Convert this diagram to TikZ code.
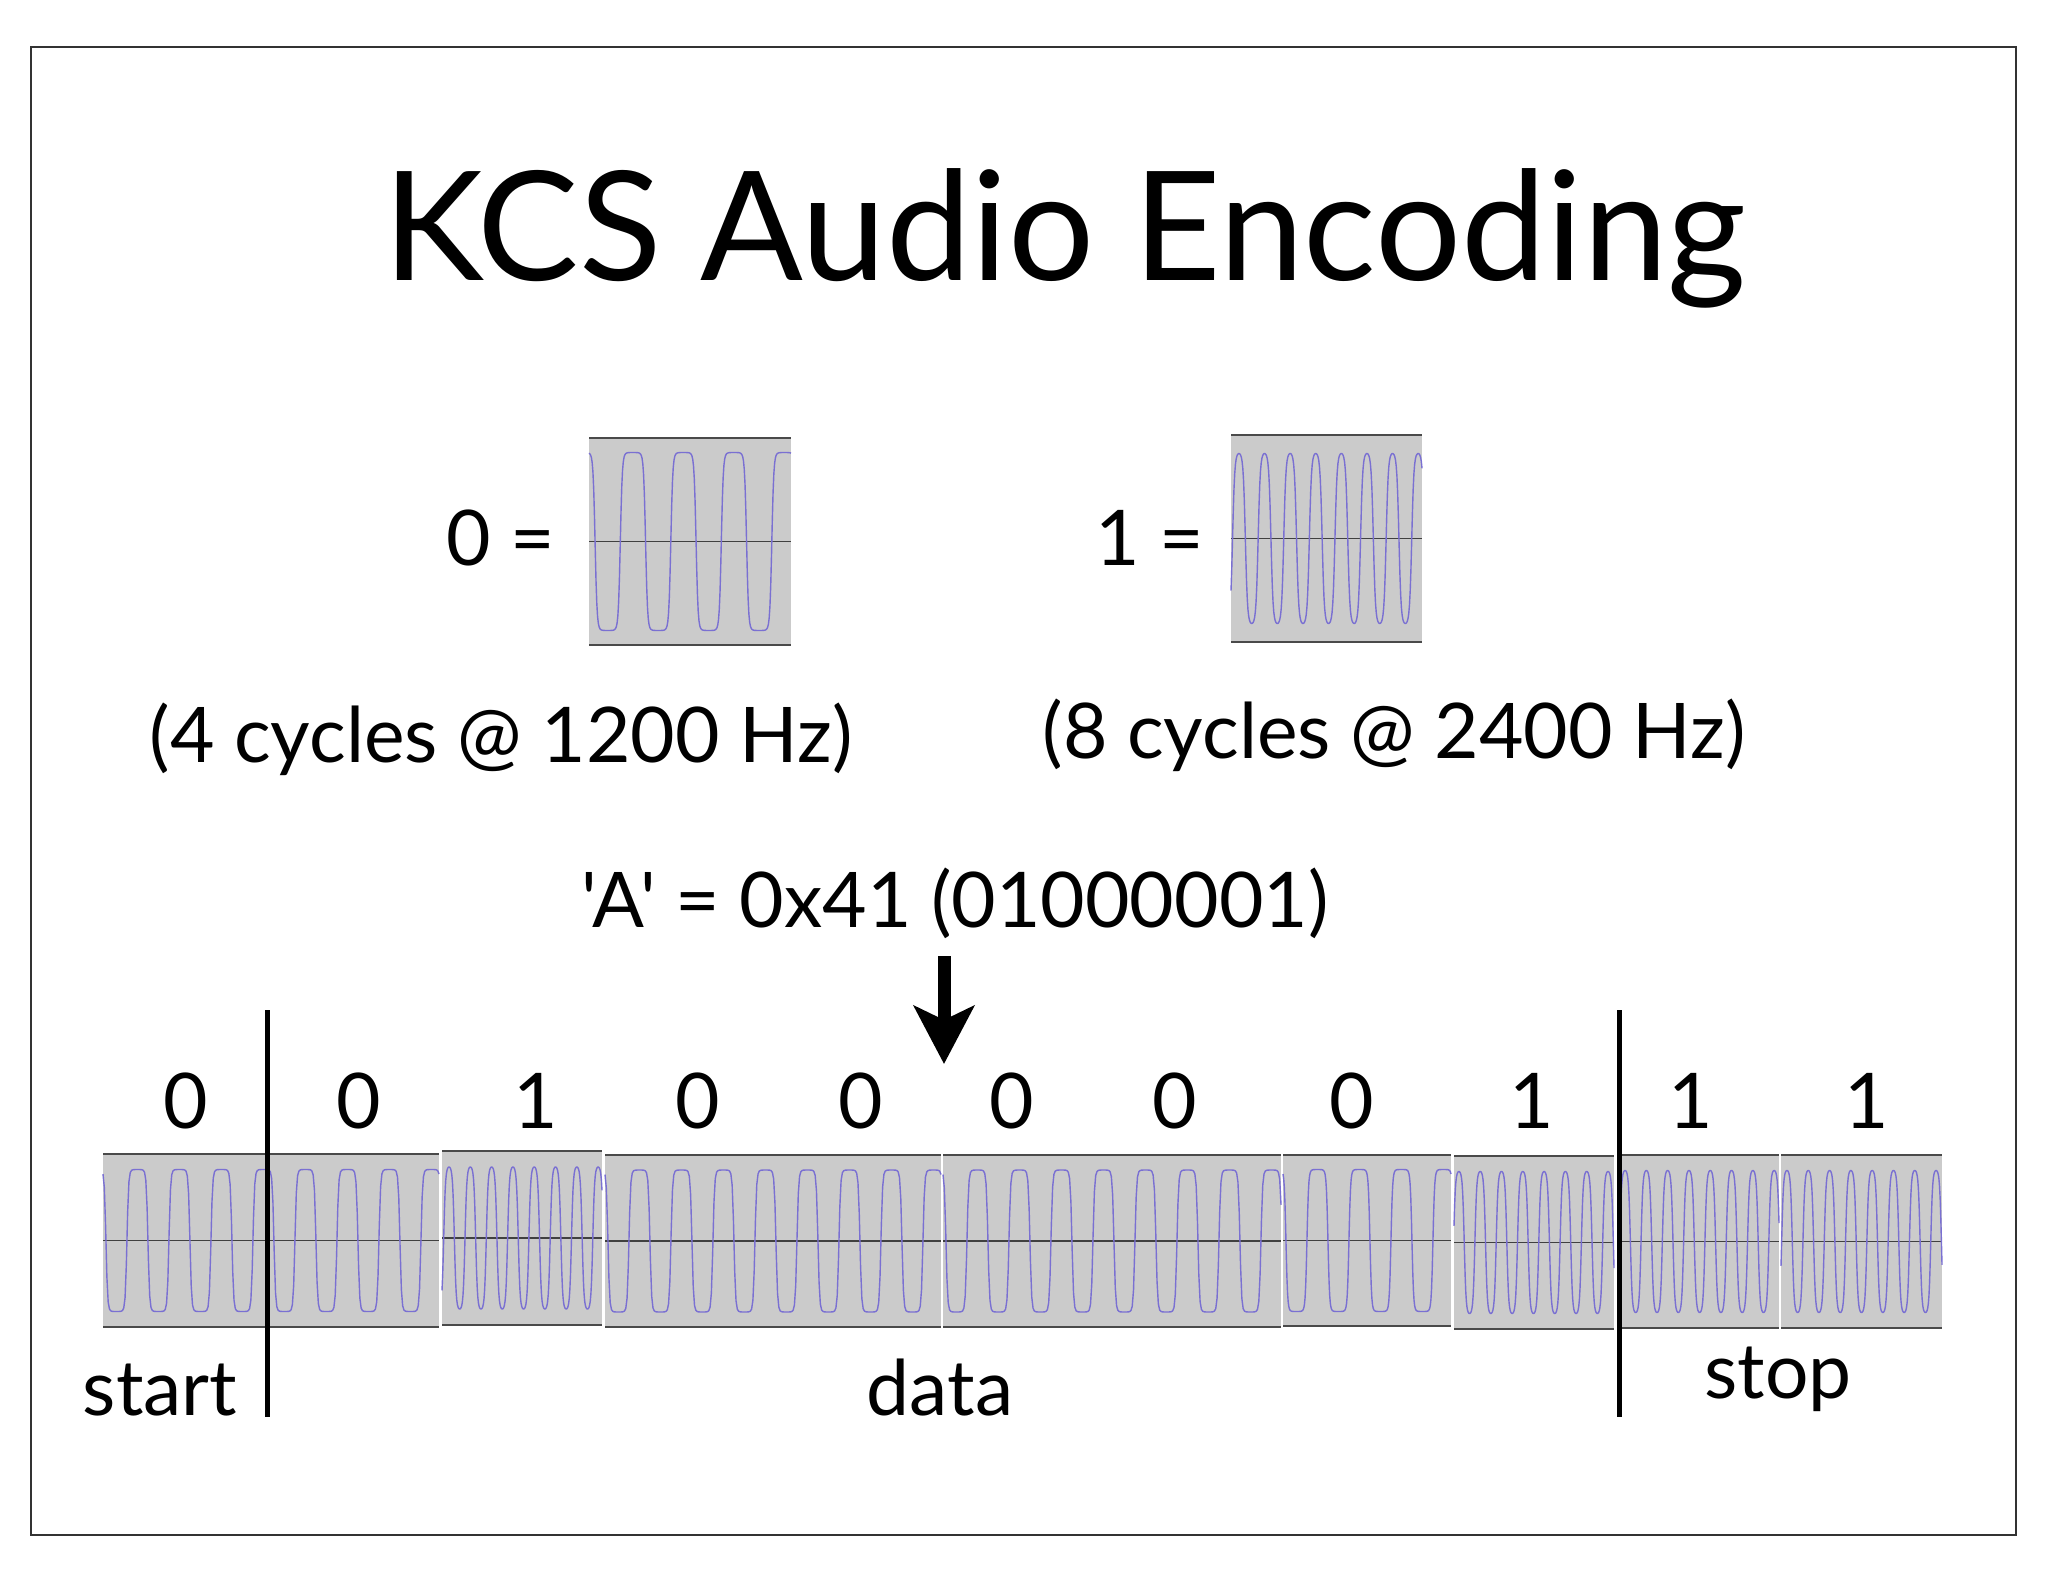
\documentclass[tikz,border=0pt]{standalone}
\usepackage{fontspec}
\setmainfont{Lato}[Ligatures=TeXOff]
\usepackage{tikz}
\usetikzlibrary{arrows.meta}
\definecolor{wavepurple}{HTML}{7A70D2}
\definecolor{scopegray}{HTML}{CBCBCB}
\definecolor{edgegray}{HTML}{4A4A4A}
% one oscilloscope capture: left, right, top, bottom, period, phase, amplitude, sharpness
\newcommand{\wavebox}[8]{%
  \fill[scopegray] (#1,#3) rectangle (#2,#4);
  \draw[boxedge] (#1,#3) -- (#2,#3) (#1,#4) -- (#2,#4);
  \draw[zeroline] (#1,{(#3+#4)/2}) -- (#2,{(#3+#4)/2});
  \draw[wave] plot[domain=#1:#2, samples=260] (\x,{(#3+#4)/2-#7*tanh(#8*cos(360*((\x-#1)/#5+#6)))/tanh(#8)});
}

\begin{document}
\begin{tikzpicture}[
  x=0.5pt, y=-0.5pt,
  slideframe/.style={draw=black!80, line width=1pt},
  title/.style={anchor=base, inner sep=0pt, font=\fontsize{76}{80}\selectfont},
  lbl/.style={anchor=base, inner sep=0pt, font=\fontsize{38.4}{40}\selectfont},
  bit/.style={lbl},
  boxedge/.style={draw=edgegray, line width=1pt},
  zeroline/.style={draw=black!75, line width=0.9pt},
  wave/.style={draw=wavepurple, line width=0.7pt, line join=round},
  divider/.style={draw=black, line width=2.5pt},
  bigarr/.style={-{Stealth[length=29pt, width=30pt, inset=7pt]}, line width=6.5pt, black}
]
  \useasboundingbox (0,0) rectangle (2048,1582);
  \draw[slideframe] (31,47) rectangle (2016,1535);

  \node[title] (title) at (1065,281) {KCS Audio Encoding};

  % the two symbols
  \node[lbl] (zeroeq) at (501,566) {0 =};
  \wavebox{589}{791}{438}{645}{50.5}{0.13}{89}{4}
  \node[lbl] (oneeq) at (1150,566) {1 =};
  \wavebox{1231}{1422}{435}{642}{25.6}{-0.31}{85}{1.8}
  \node[lbl] (zeronote) at (501,762) {(4 cycles @ 1200 Hz)};
  \node[lbl] (onenote) at (1394,758) {(8 cycles @ 2400 Hz)};

  % the byte
  \node[lbl] (byte) at (955,927) {'A' = 0x41 (01000001)};
  \coordinate (arrtop) at (944,956);
  \coordinate (arrtip) at (944,1064);
  \draw[bigarr] (arrtop) -- (arrtip);

  \foreach \bx/\bv [count=\i] in {186/0, 359/0, 536/1, 698/0, 861/0, 1012/0, 1175/0, 1352/0, 1532/1, 1691/1, 1867/1}
    \node[bit] (bit\i) at (\bx,1128) {\bv};

  % the frame on tape
  \wavebox{103}{439}{1154}{1327}{42}{0.18}{71}{4}
  \wavebox{442}{602}{1151}{1325}{21.3}{-0.33}{71}{1.8}
  \wavebox{605}{941}{1155}{1327}{42}{0.18}{71}{4}
  \wavebox{943}{1281}{1155}{1327}{42}{0.18}{71}{4}
  \wavebox{1283}{1451}{1155}{1326}{42}{0.18}{71}{4}
  \wavebox{1454}{1614}{1156}{1329}{21.3}{-0.23}{71}{1.8}
  \wavebox{1621}{1779}{1155}{1328}{21.3}{-0.19}{71}{1.8}
  \wavebox{1781}{1942}{1155}{1328}{21.3}{-0.28}{71}{1.8}

  \coordinate (starttop) at (267,1010);
  \coordinate (startbot) at (267,1417);
  \coordinate (stoptop) at (1619,1010);
  \coordinate (stopbot) at (1619,1417);
  \draw[divider] (starttop) -- (startbot);
  \draw[divider] (stoptop) -- (stopbot);

  \node[lbl] (start) at (160,1415) {start};
  \node[lbl] (data) at (940,1415) {data};
  \node[lbl] (stop) at (1778,1398) {stop};
\end{tikzpicture}
\end{document}
